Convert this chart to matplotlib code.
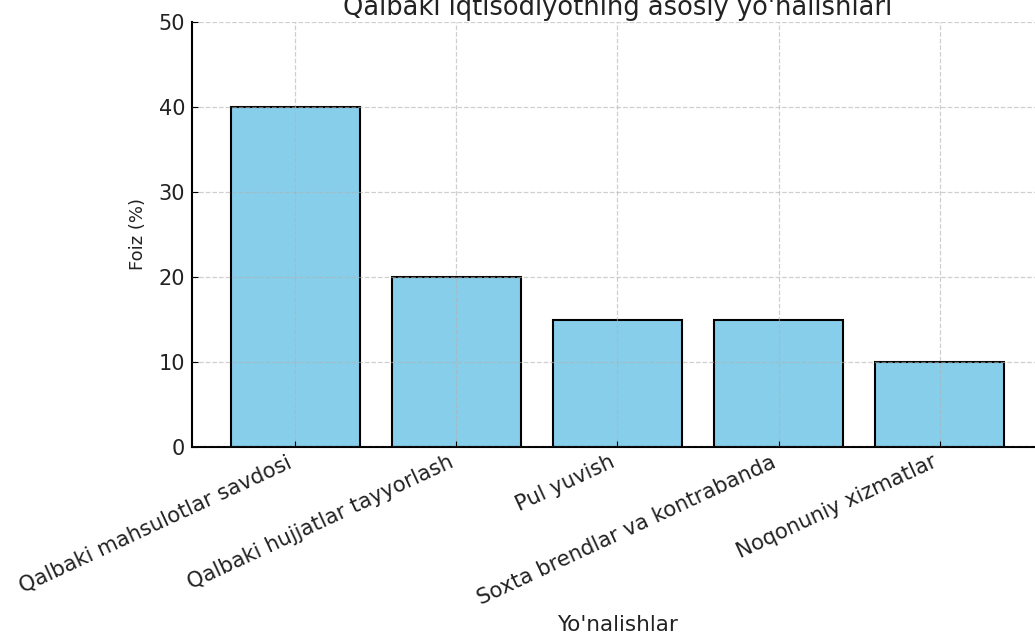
import matplotlib
matplotlib.use("Agg")
import matplotlib.pyplot as plt

categories = ["Qalbaki mahsulotlar savdosi", "Qalbaki hujjatlar tayyorlash",
              "Pul yuvish", "Soxta brendlar va kontrabanda", "Noqonuniy xizmatlar"]
values = [40, 20, 15, 15, 10]
yticks = [0, 10, 20, 30, 40, 50]

plt.rcParams['font.family'] = ['DejaVu Sans']
fig = plt.figure(figsize=(10.35, 6.39), dpi=100)
ax = fig.add_axes([192/1035, 1-447/639, (1043-192)/1035, (447-22)/639])

x = list(range(len(categories)))
ax.bar(x, values, width=0.8, color='skyblue', edgecolor='black', linewidth=1.5, zorder=1)
ax.set_axisbelow(False)
ax.grid(True, linestyle='--', color='#b0b0b0', alpha=0.6, linewidth=0.9, zorder=3)
ax.set_xticks(x)
ax.set_xticklabels(categories, rotation=25, ha='right', fontsize=15.2, color='#222222')
ax.set_ylim(0, 50)
ax.set_yticks(yticks)
ax.tick_params(axis='y', labelsize=15, labelcolor='#222222', direction='in', length=4, pad=5)
ax.tick_params(axis='x', direction='in', length=4)
ax.spines['top'].set_visible(False)
ax.spines['right'].set_visible(False)
ax.spines['left'].set_linewidth(1.5)
ax.spines['bottom'].set_linewidth(1.5)
ax.set_ylabel("Foiz (%)", fontsize=13, color='#222222', labelpad=8)
ax.set_xlabel("Yo'nalishlar", fontsize=15.5, color='#222222', labelpad=5)
ax.set_title("Qalbaki iqtisodiyotning asosiy yo'nalishlari", fontsize=18.5, color='#222222', pad=5)

fig.savefig("out.png", dpi=100)
